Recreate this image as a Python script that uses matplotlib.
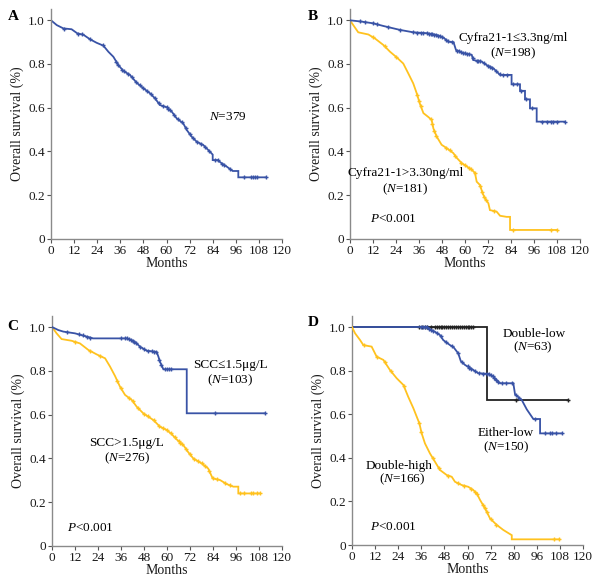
import numpy as np
import matplotlib
matplotlib.use("Agg")
import matplotlib.pyplot as plt

plt.rcParams['font.family'] = ['Liberation Serif', 'DejaVu Serif']
plt.rcParams['mathtext.fontset'] = 'custom'
plt.rcParams['mathtext.rm'] = 'Liberation Serif'
plt.rcParams['mathtext.it'] = 'Liberation Serif:italic'

BLUE = '#3953A6'
YELLOW = '#FFC21F'
BLACK = '#222222'

# ---------------- data ----------------
# Panel A: all patients
a_t = [0, 3, 6.4, 10.7, 13.7, 16.8, 20.3, 23.7, 27.2, 29.8, 32.4, 35, 37.6, 41, 44.5, 48,
       51.4, 54, 56.6, 60.1, 62.7, 65.3, 68.7, 70.5, 73.1, 75.7, 79.1, 82.6, 84, 84, 86.5,
       88.7, 91.3, 94.4, 97.3, 97.3, 111.5]
a_s = [1.0, 0.978, 0.963, 0.959, 0.94, 0.934, 0.913, 0.897, 0.884, 0.856, 0.833, 0.795,
       0.768, 0.75, 0.714, 0.689, 0.666, 0.643, 0.612, 0.602, 0.582, 0.551, 0.528, 0.498,
       0.467, 0.444, 0.429, 0.398, 0.385, 0.36, 0.36, 0.345, 0.33, 0.31, 0.31, 0.281, 0.281]
a_cens = [7, 14, 16, 20, 27, 34, 35, 37, 38, 40, 42, 44, 46, 48, 50, 52, 54, 56, 58, 60, 61,
          62, 64, 66, 68, 70, 72, 74, 76, 78, 80, 82, 85, 86.5, 89, 90, 93, 100, 104, 105,
          106, 107, 111.5]

# Panel B: Cyfra21-1
b_low_t = [0, 6.1, 12.2, 17.4, 26.1, 33, 40, 45.2, 48.7, 51.3, 54, 55.3, 59.1, 63.5, 64.3,
           68.7, 71.3, 74.8, 78.3, 84.3, 84.3, 88.7, 88.7, 91.3, 91.3, 93.9, 93.9, 97.4,
           97.4, 112.2]
b_low_s = [1.0, 0.994, 0.986, 0.974, 0.956, 0.945, 0.941, 0.933, 0.921, 0.902, 0.9, 0.864,
           0.85, 0.842, 0.818, 0.811, 0.795, 0.78, 0.75, 0.75, 0.707, 0.707, 0.677, 0.677,
           0.638, 0.638, 0.597, 0.597, 0.536, 0.536]
b_low_cens = [5, 8, 12, 14, 20, 26, 33, 35, 37, 38, 40, 41, 42, 43, 44, 45, 46, 47, 48, 50,
              51, 53, 56, 57, 58, 59, 60, 61, 62, 64, 66, 67, 68, 70, 72, 73, 74, 76, 78, 80,
              82, 85, 87, 89, 92, 95, 100, 103, 105, 106, 108, 112.2]
b_high_t = [0, 1.7, 4.3, 9.6, 13, 17.4, 20.9, 24.4, 27.8, 30.4, 33, 34.8, 36.5, 38.3, 40.9,
            42.6, 43.5, 45.2, 47.8, 50.4, 53.9, 55.7, 58.3, 60.9, 63.5, 65.2, 66.1, 67.8,
            69.2, 70.4, 72.2, 73, 76.5, 78.3, 81.7, 83.5, 83.5, 107.8]
b_high_s = [1.0, 0.978, 0.945, 0.935, 0.917, 0.887, 0.856, 0.83, 0.802, 0.757, 0.711, 0.666,
            0.617, 0.575, 0.557, 0.544, 0.505, 0.468, 0.43, 0.415, 0.392, 0.37, 0.346, 0.331,
            0.316, 0.301, 0.261, 0.246, 0.208, 0.185, 0.162, 0.131, 0.124, 0.105, 0.1, 0.1,
            0.04, 0.04]
b_high_cens = [12, 18, 24, 35, 36, 37, 42, 43, 44, 45, 50, 52, 55, 58, 60, 62, 63, 65, 68,
               69, 70, 71, 75, 85, 105, 107.8]

# Panel C: SCC
c_low_t = [0, 3.3, 5.9, 12, 21.5, 39, 41.6, 44.2, 45.9, 49.4, 54.6, 55.5, 56.3, 58.1, 70.3,
           70.3, 111.1]
c_low_s = [1.0, 0.986, 0.979, 0.971, 0.948, 0.948, 0.94, 0.925, 0.91, 0.892, 0.886, 0.865,
           0.842, 0.807, 0.807, 0.606, 0.606]
c_low_cens = [8, 14, 16, 18, 20, 36, 38, 39, 40, 41, 42, 43, 44, 46, 48, 50, 52, 53, 54, 56,
              57, 59, 60, 61, 62, 85, 111.1]
c_high_t = [0, 2.4, 5, 10.3, 14.6, 19, 23.3, 27.7, 30.3, 32.9, 35.5, 38.1, 41.6, 44.2, 47.6,
            52.9, 56.3, 59.8, 62.4, 65, 68.5, 71.1, 73.7, 78.1, 81.5, 83.8, 87.7, 91.1, 94.6,
            97.2, 97.2, 108.5]
c_high_s = [1.0, 0.971, 0.945, 0.937, 0.925, 0.895, 0.875, 0.857, 0.819, 0.776, 0.727, 0.69,
            0.667, 0.636, 0.606, 0.575, 0.545, 0.53, 0.511, 0.487, 0.461, 0.428, 0.4, 0.377,
            0.354, 0.309, 0.301, 0.283, 0.271, 0.271, 0.24, 0.24]
c_high_cens = [12, 20, 25, 34, 36, 40, 42, 45, 48, 50, 53, 56, 58, 60, 62, 64, 66, 67, 68,
               70, 72, 74, 76, 78, 80, 82, 84, 86, 90, 93, 98, 100, 104, 105, 107, 108.5]

# Panel D: combined
d_dl_t = [0, 70, 70, 112]
d_dl_s = [1.0, 1.0, 0.665, 0.665]
d_dl_cens = [35, 36.5, 38, 39, 41, 43, 44, 45, 46, 47, 48, 49, 50, 51, 52, 53, 54, 55, 56,
             57, 58, 59, 60, 61, 62, 63, 85.2, 112]
d_el_t = [0, 38.8, 40.5, 43.1, 45.7, 47.4, 50.9, 52.6, 55.2, 56.5, 58.7, 63, 65.6, 70.8,
          73.4, 76.9, 83.8, 84.7, 88.2, 90.8, 94.2, 97.7, 97.7, 108.9]
d_el_s = [1.0, 1.0, 0.989, 0.978, 0.963, 0.94, 0.917, 0.909, 0.879, 0.844, 0.826, 0.803,
          0.788, 0.785, 0.772, 0.742, 0.742, 0.691, 0.665, 0.622, 0.578, 0.578, 0.512, 0.512]
d_el_cens = [36, 37, 38, 39, 40, 41, 42, 44, 46, 49, 52, 55, 57, 60, 61, 62, 64, 66, 68, 70,
             71, 72, 73, 74, 75, 76, 78, 80, 83, 85, 87, 95, 100, 103, 104, 106, 108.9]
d_dh_t = [0, 1.6, 4.2, 5.9, 10.2, 12.8, 16.3, 19.7, 23.2, 26.7, 29.2, 31.9, 33.6, 35, 36.2,
          37.9, 40.5, 43.1, 45.7, 49.2, 51.8, 53.5, 57, 60.4, 63, 64.8, 66.5, 69.1, 71.7,
          75.2, 78.6, 83, 83, 107.7]
d_dh_s = [1.0, 0.971, 0.94, 0.917, 0.91, 0.864, 0.849, 0.803, 0.765, 0.734, 0.68, 0.627,
          0.589, 0.558, 0.512, 0.466, 0.42, 0.382, 0.344, 0.321, 0.313, 0.29, 0.275, 0.267,
          0.252, 0.237, 0.207, 0.168, 0.122, 0.092, 0.069, 0.045, 0.026, 0.026]
d_dh_cens = [6, 13, 17, 20, 27, 35, 36, 42, 45, 50, 55, 58, 62, 64, 65, 68, 69, 70, 72, 75,
             105, 107.7]

x_ticks = [0, 12, 24, 36, 48, 60, 72, 84, 96, 108, 120]
x_labels = ['0', '12', '24', '36', '48', '60', '72', '84', '96', '108', '120']
x_labels_d = ['0', '12', '24', '36', '48', '60', '72', '80', '96', '108', '120']
y_ticks = [0, 0.2, 0.4, 0.6, 0.8, 1.0]
y_labels = ['0', '0.2', '0.4', '0.6', '0.8', '1.0']

# ---------------- drawing ----------------
fig = plt.figure(figsize=(6.0, 5.85), dpi=100)
W, H = 600.0, 585.0

def make_ax(left_px, right_px, zero_px, one_px):
    unit = zero_px - one_px
    top_px = zero_px - 1.05 * unit
    return fig.add_axes([left_px / W, 1 - zero_px / H, (right_px - left_px) / W,
                         (zero_px - top_px) / H])

axA = make_ax(51, 282, 238.7, 20.3)
axB = make_ax(350, 580, 238.7, 20.3)
axC = make_ax(52, 282, 546, 327)
axD = make_ax(352, 583, 545, 327)

GRAY = '#8a8a8a'

def style(ax, xl):
    ax.set_xlim(0, 120)
    ax.set_ylim(0, 1.05)
    for s in ['top', 'right']:
        ax.spines[s].set_visible(False)
    for s in ['left', 'bottom']:
        ax.spines[s].set_color(GRAY)
        ax.spines[s].set_linewidth(1.0)
    ax.set_xticks(x_ticks)
    ax.set_xticklabels(xl)
    ax.set_yticks(y_ticks)
    ax.set_yticklabels(y_labels)
    ax.tick_params(direction='out', length=3, width=0.8, color='#555555',
                   labelsize=9.5, pad=1.5, labelcolor='#1a1a1a')
    ax.set_xlabel('Months', fontsize=10, labelpad=0, color='#1a1a1a')
    ax.set_ylabel('Overall survival (%)', fontsize=10, labelpad=3, color='#1a1a1a')
    ax.patch.set_alpha(0)

def curve(ax, t, s, cens, color, z=2):
    ax.plot(t, s, color=color, lw=1.3, zorder=z, solid_joinstyle='miter')
    ax.plot(cens, np.interp(cens, t, s), ls='none', marker='+', ms=3.5, mew=1.0,
            color=color, zorder=z)

FS = 9.5

style(axA, x_labels)
curve(axA, a_t, a_s, a_cens, BLUE)
axA.text(92, 0.557, r'$\mathit{N}$=379', fontsize=FS, ha='center', va='center')

style(axB, x_labels)
curve(axB, b_high_t, b_high_s, b_high_cens, YELLOW)
curve(axB, b_low_t, b_low_s, b_low_cens, BLUE, z=3)
axB.text(85, 0.919, 'Cyfra21-1≤3.3ng/ml', fontsize=FS, ha='center', va='center')
axB.text(85, 0.85, r'($\mathit{N}$=198)', fontsize=FS, ha='center', va='center')
axB.text(29, 0.30, 'Cyfra21-1>3.30ng/ml', fontsize=FS, ha='center', va='center')
axB.text(29, 0.227, r'($\mathit{N}$=181)', fontsize=FS, ha='center', va='center')
axB.text(22.4, 0.09, r'$\mathit{P}$<0.001', fontsize=FS, ha='center', va='center')

style(axC, x_labels)
curve(axC, c_high_t, c_high_s, c_high_cens, YELLOW)
curve(axC, c_low_t, c_low_s, c_low_cens, BLUE, z=3)
axC.text(93, 0.826, 'SCC≤1.5μg/L', fontsize=FS, ha='center', va='center')
axC.text(93, 0.758, r'($\mathit{N}$=103)', fontsize=FS, ha='center', va='center')
axC.text(39, 0.47, 'SCC>1.5μg/L', fontsize=FS, ha='center', va='center')
axC.text(39, 0.40, r'($\mathit{N}$=276)', fontsize=FS, ha='center', va='center')
axC.text(19.8, 0.082, r'$\mathit{P}$<0.001', fontsize=FS, ha='center', va='center')

style(axD, x_labels_d)
curve(axD, d_dl_t, d_dl_s, d_dl_cens, BLACK, z=2)
curve(axD, d_el_t, d_el_s, d_el_cens, BLUE, z=3)
curve(axD, d_dh_t, d_dh_s, d_dh_cens, YELLOW, z=4)
axD.text(94.5, 0.968, 'Double-low', fontsize=FS, ha='center', va='center')
axD.text(94, 0.908, r'($\mathit{N}$=63)', fontsize=FS, ha='center', va='center')
axD.text(80, 0.514, 'Either-low', fontsize=FS, ha='center', va='center')
axD.text(80, 0.45, r'($\mathit{N}$=150)', fontsize=FS, ha='center', va='center')
axD.text(24.4, 0.362, 'Double-high', fontsize=FS, ha='center', va='center')
axD.text(26, 0.303, r'($\mathit{N}$=166)', fontsize=FS, ha='center', va='center')
axD.text(21.3, 0.083, r'$\mathit{P}$<0.001', fontsize=FS, ha='center', va='center')

for letter, xp, yp in [('A', 13, 17), ('B', 313, 17), ('C', 13, 326), ('D', 313, 323)]:
    fig.text(xp / W, 1 - yp / H, letter, fontsize=11, fontweight='bold',
             ha='center', va='center')

fig.savefig('out.png', dpi=100, facecolor='white')
